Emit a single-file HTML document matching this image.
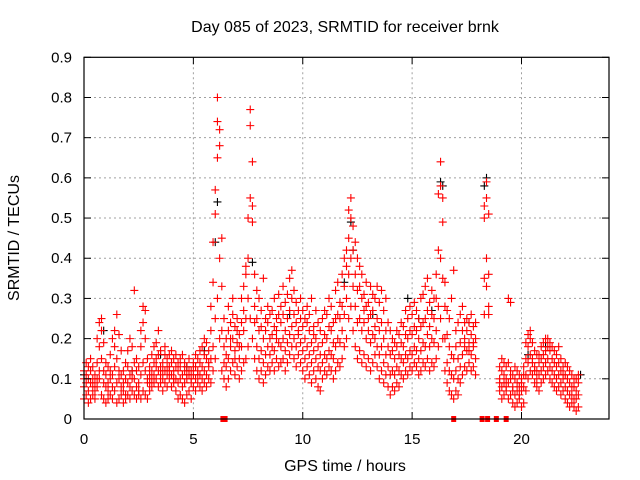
<!DOCTYPE html>
<html><head><meta charset="utf-8"><style>
html,body{margin:0;padding:0;background:#fff}
svg{display:block;font-family:"Liberation Sans",sans-serif}
</style></head><body>
<svg id="chart" width="640" height="480">
<text x="345" y="32" font-size="16" text-anchor="middle">Day 085 of 2023, SRMTID for receiver brnk</text>
<text x="345" y="471" font-size="16" text-anchor="middle">GPS time / hours</text>
<text transform="translate(19,238) rotate(-90)" font-size="16" text-anchor="middle">SRMTID / TECUs</text>
<g id="grid"></g>
<g id="black"></g>
<g id="red"></g>
<g id="marks"></g>
<g id="axes"></g>
</svg>
<script>
const xTicks=[0,5,10,15,20];
const yTicks=[0,0.1,0.2,0.3,0.4,0.5,0.6,0.7,0.8,0.9];
const yTickLabels=["0","0.1","0.2","0.3","0.4","0.5","0.6","0.7","0.8","0.9"];
const redRows=[
[0.0,.08,.12,.05,.10],[0.1,.06,.14,.09,.11],[0.2,.04,.10,.13,.07],[0.3,.09,.05,.12,.15],[0.4,.06,.10,.08,.13],
[0.5,.05,.09,.11,.07],[0.6,.08,.14,.20,.10],[0.7,.10,.18,.24,.12],[0.8,.06,.15,.22,.25],[0.9,.05,.12,.19,.09],
[1.0,.04,.08,.11,.14],[1.1,.05,.09,.13,.07],[1.2,.06,.12,.16,.10],[1.3,.05,.08,.20,.11],[1.4,.07,.13,.18,.22],
[1.5,.04,.09,.15,.26],[1.6,.05,.10,.21,.12],[1.7,.06,.11,.17,.08],[1.8,.04,.07,.12,.09],[1.9,.05,.10,.14,.06],
[2.0,.06,.09,.13,.17],[2.1,.05,.11,.20,.08],[2.2,.07,.12,.18,.10],[2.3,.06,.10,.14,.32],[2.4,.05,.08,.12,.15],
[2.5,.06,.09,.13,.07],[2.6,.05,.11,.18,.22],[2.7,.07,.14,.24,.28],[2.8,.06,.12,.20,.27],[2.9,.05,.09,.15,.10],
[3.0,.07,.11,.13,.09],[3.1,.08,.12,.16,.10],[3.2,.09,.14,.18,.11],[3.3,.10,.13,.19,.15],[3.4,.08,.12,.22,.16],
[3.5,.09,.13,.17,.11],[3.6,.07,.10,.14,.12],[3.7,.09,.12,.16,.18],[3.8,.08,.11,.15,.13],[3.9,.10,.13,.16,.12],
[4.0,.08,.11,.14,.17],[4.1,.09,.12,.15,.10],[4.2,.07,.10,.13,.16],[4.3,.05,.09,.12,.14],[4.4,.06,.10,.13,.15],
[4.5,.05,.08,.11,.16],[4.6,.04,.09,.12,.14],[4.7,.06,.10,.13,.11],[4.8,.07,.11,.15,.12],[4.9,.05,.09,.12,.10],
[5.0,.08,.11,.14,.13],[5.1,.07,.10,.13,.16],[5.2,.09,.12,.15,.11],[5.3,.08,.11,.14,.17],[5.4,.07,.10,.13,.18],
[5.5,.09,.12,.16,.20],[5.6,.08,.11,.15,.19],[5.7,.10,.13,.17,.14],[5.8,.09,.15,.22,.28],[5.9,.12,.18,.34,.44],
[6.0,.15,.25,.51,.57],[6.1,.30,.65,.74,.80],[6.2,.20,.40,.68,.72],[6.3,.12,.22,.33,.45],[6.4,.10,.18,.25,.14],
[6.5,.08,.13,.20,.16],[6.6,.10,.15,.22,.28],[6.7,.12,.18,.24,.20],[6.8,.14,.20,.26,.30],[6.9,.11,.17,.23,.15],
[7.0,.13,.19,.25,.22],[7.1,.10,.15,.21,.18],[7.2,.12,.18,.24,.30],[7.3,.14,.22,.33,.27],[7.4,.15,.25,.36,.38],
[7.5,.18,.30,.40,.50],[7.6,.25,.55,.73,.77],[7.7,.20,.49,.64,.53],[7.8,.15,.28,.36,.24],[7.9,.12,.18,.25,.32],
[8.0,.10,.15,.22,.30],[8.1,.12,.17,.23,.27],[8.2,.09,.14,.20,.35],[8.3,.11,.16,.22,.25],[8.4,.13,.18,.24,.28],
[8.5,.12,.20,.26,.16],[8.6,.14,.21,.27,.18],[8.7,.12,.17,.23,.30],[8.8,.15,.20,.25,.22],[8.9,.13,.19,.26,.31],
[9.0,.14,.18,.24,.28],[9.1,.15,.20,.26,.33],[9.2,.12,.17,.22,.29],[9.3,.14,.19,.25,.31],[9.4,.16,.21,.27,.35],
[9.5,.18,.23,.30,.37],[9.6,.15,.20,.26,.32],[9.7,.13,.18,.24,.29],[9.8,.16,.22,.27,.21],[9.9,.14,.19,.25,.30],
[10.0,.12,.17,.23,.27],[10.1,.10,.15,.20,.25],[10.2,.13,.18,.24,.28],[10.3,.11,.16,.22,.26],[10.4,.09,.14,.19,.30],
[10.5,.12,.17,.23,.21],[10.6,.10,.15,.20,.27],[10.7,.08,.13,.18,.24],[10.8,.07,.12,.16,.22],[10.9,.10,.14,.19,.25],
[11.0,.12,.16,.21,.27],[11.1,.11,.15,.20,.26],[11.2,.13,.17,.23,.30],[11.3,.12,.16,.22,.28],[11.4,.10,.15,.19,.24],
[11.5,.12,.18,.25,.32],[11.6,.14,.20,.26,.34],[11.7,.13,.19,.25,.29],[11.8,.15,.22,.28,.36],[11.9,.18,.26,.33,.40],
[12.0,.20,.30,.38,.42],[12.1,.25,.36,.45,.52],[12.2,.28,.40,.50,.55],[12.3,.22,.33,.42,.48],[12.4,.18,.28,.36,.44],
[12.5,.15,.24,.32,.40],[12.6,.17,.25,.33,.38],[12.7,.14,.22,.30,.36],[12.8,.16,.24,.31,.27],[12.9,.13,.20,.28,.34],
[13.0,.15,.22,.29,.25],[13.1,.12,.19,.26,.33],[13.2,.14,.21,.27,.31],[13.3,.16,.23,.30,.20],[13.4,.13,.18,.25,.33],
[13.5,.10,.16,.22,.29],[13.6,.12,.18,.24,.32],[13.7,.09,.14,.20,.27],[13.8,.11,.16,.22,.30],[13.9,.08,.13,.18,.24],
[14.0,.06,.11,.16,.22],[14.1,.08,.12,.17,.20],[14.2,.07,.11,.15,.19],[14.3,.09,.13,.18,.22],[14.4,.08,.12,.16,.21],
[14.5,.11,.15,.19,.24],[14.6,.10,.14,.18,.23],[14.7,.12,.16,.21,.27],[14.8,.11,.15,.20,.25],[14.9,.13,.17,.22,.28],
[15.0,.12,.16,.21,.26],[15.1,.14,.18,.23,.29],[15.2,.13,.17,.22,.27],[15.3,.11,.15,.20,.25],[15.4,.12,.17,.23,.30],
[15.5,.14,.19,.24,.31],[15.6,.13,.18,.25,.33],[15.7,.15,.21,.27,.35],[15.8,.12,.18,.23,.29],[15.9,.14,.20,.26,.32],
[16.0,.13,.19,.25,.30],[16.1,.15,.22,.30,.36],[16.2,.18,.28,.42,.56],[16.3,.25,.40,.58,.64],[16.4,.20,.35,.49,.55],
[16.5,.12,.20,.28,.34],[16.6,.09,.14,.21,.27],[16.7,.07,.12,.18,.25],[16.8,.06,.11,.16,.30],[16.9,.05,.10,.15,.37],
[17.0,.07,.12,.18,.22],[17.1,.06,.10,.15,.24],[17.2,.09,.13,.19,.26],[17.3,.11,.16,.22,.28],[17.4,.13,.18,.24,.20],
[17.5,.12,.17,.22,.25],[17.6,.14,.19,.24,.17],[17.7,.12,.16,.21,.26],[17.8,.13,.18,.23,.19],[17.9,.11,.15,.20,.24],
[18.3,.26,.35,.50,.53],[18.4,.33,.40,.55,.59],[18.5,.28,.36,.51,.26],
[19.0,.07,.10,.13,.09],[19.1,.05,.08,.12,.15],[19.2,.06,.09,.11,.14],[19.3,.07,.10,.13,.08],[19.4,.05,.09,.14,.30],
[19.5,.06,.10,.12,.29],[19.6,.04,.08,.11,.07],[19.7,.03,.06,.10,.13],[19.8,.04,.07,.09,.12],[19.9,.05,.08,.11,.06],
[20.0,.03,.07,.10,.09],[20.1,.04,.08,.11,.13],[20.2,.07,.11,.15,.19],[20.3,.10,.14,.18,.21],[20.4,.12,.16,.20,.22],
[20.5,.11,.15,.19,.14],[20.6,.09,.13,.17,.12],[20.7,.08,.12,.16,.10],[20.8,.07,.11,.14,.16],[20.9,.09,.12,.15,.18],
[21.0,.10,.13,.16,.19],[21.1,.11,.14,.17,.20],[21.2,.12,.15,.18,.20],[21.3,.10,.13,.17,.19],[21.4,.09,.12,.15,.18],
[21.5,.08,.11,.14,.17],[21.6,.07,.10,.13,.16],[21.7,.08,.11,.14,.18],[21.8,.06,.09,.12,.15],[21.9,.07,.10,.13,.11],
[22.0,.05,.08,.11,.14],[22.1,.04,.07,.10,.13],[22.2,.03,.06,.09,.12],[22.3,.04,.06,.08,.11],[22.4,.03,.05,.08,.10],
[22.5,.02,.05,.07,.10],[22.6,.03,.06,.09,.11]
];
const blackTimes=[0.0,0.9,2.2,3.5,4.7,5.5,6.0,6.1,7.7,9.4,11.9,12.2,12.3,13.2,14.8,15.3,15.9,16.3,16.4,17.6,18.3,18.4,20.3,21.1,22.7];
const blackValues=[0.11,0.22,0.12,0.16,0.13,0.17,0.44,0.54,0.39,0.26,0.34,0.49,0.42,0.26,0.30,0.25,0.27,0.59,0.58,0.24,0.58,0.60,0.16,0.18,0.11];
const gapTimes=[6.35,6.45,16.9,18.2,18.45,18.85,19.3];

const L=84,R=609,T=57.3,B=419;
const xMax=24,yMax=0.9;
const NS="http://www.w3.org/2000/svg";
function xs(t){return L+(R-L)*t/xMax;}
function ys(v){return B-(B-T)*v/yMax;}
function mk(tag,attrs,parent){const e=document.createElementNS(NS,tag);for(const k in attrs)e.setAttribute(k,attrs[k]);parent.appendChild(e);return e;}
const grid=document.getElementById('grid'),axes=document.getElementById('axes');
yTicks.forEach((v,i)=>{
  const y=ys(v);
  if(i>0&&i<yTicks.length-1){const g=mk('line',{x1:L,x2:R,y1:y,y2:y,stroke:'#a0a0a0','stroke-dasharray':'2,3','stroke-width':1},grid);
  
  }
  const t=mk('line',{x1:L,x2:L+7,y1:y,y2:y,stroke:'#000'},axes);
  
  
  const t2=mk('line',{x1:R-7,x2:R,y1:y,y2:y,stroke:'#000'},axes);
  
  
  const lb=mk('text',{x:L-12,y:y+5,'font-size':15,'text-anchor':'end'},axes);lb.textContent=yTickLabels[i];
  
  
});
xTicks.forEach((v,i)=>{
  const x=xs(v);
  if(i>0){const g=mk('line',{x1:x,x2:x,y1:T,y2:B,stroke:'#a0a0a0','stroke-dasharray':'2,3','stroke-width':1},grid);
  
  }
  const t=mk('line',{x1:x,x2:x,y1:B,y2:B-7,stroke:'#000'},axes);
  
  
  const t2=mk('line',{x1:x,x2:x,y1:T,y2:T+7,stroke:'#000'},axes);
  
  
  const lb=mk('text',{x:x,y:B+25,'font-size':15,'text-anchor':'middle'},axes);lb.textContent=String(v);
  
  
});
const frame=mk('rect',{x:L,y:T,width:R-L,height:B-T,fill:'none',stroke:'#000','stroke-width':1.2},axes);


function cross(t,v,color,parent,name){
  const x=xs(t),y=ys(v);
  const p=mk('path',{d:`M${x-4},${y}H${x+4}M${x},${y-4}V${y+4}`,stroke:color,'stroke-width':1.1,fill:'none'},parent);
  
  
}
const blackG=document.getElementById('black'),redG=document.getElementById('red'),marksG=document.getElementById('marks');
blackTimes.forEach((t,i)=>cross(t,blackValues[i],'#000',blackG,'black-point'));
redRows.forEach(row=>{for(let j=1;j<row.length;j++)cross(row[0],row[j],'#ff0000',redG,'red-point');});
gapTimes.forEach(t=>{
  const r=mk('rect',{x:xs(t)-2.5,y:B-3,width:5,height:6,fill:'#ff0000'},marksG);
  
  
});
</script>
</body></html>
